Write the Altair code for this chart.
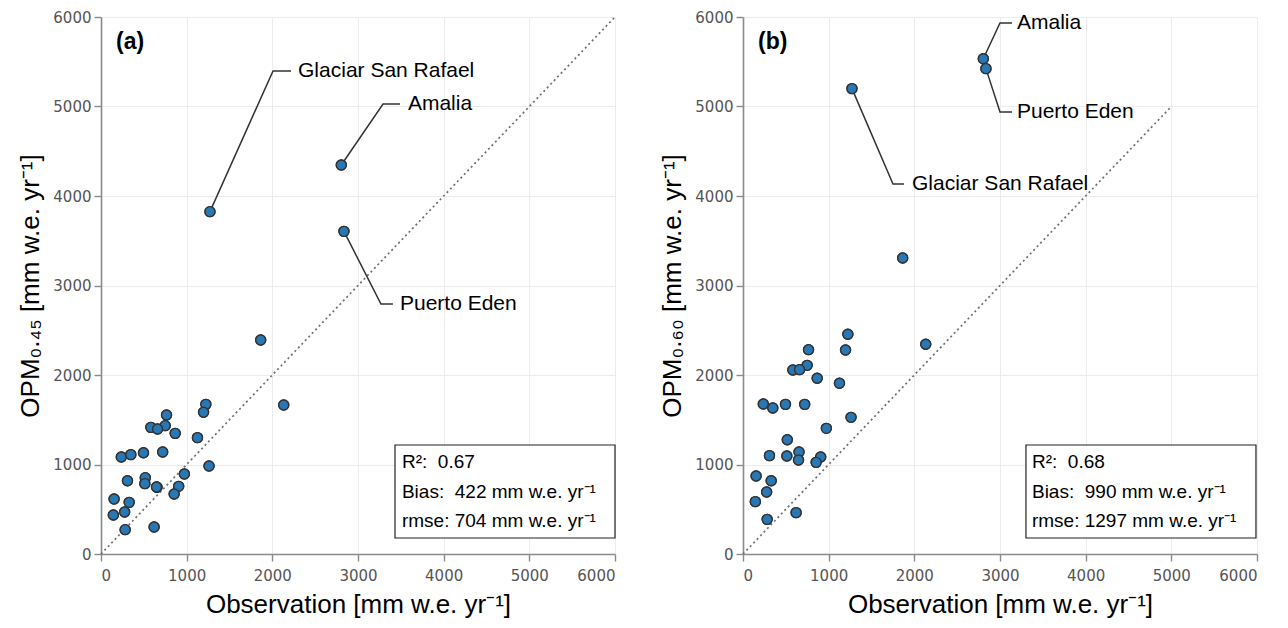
import altair as alt
import pandas as pd

# ---------------- data ----------------
observation = [2133, 1224, 1197, 765, 749, 582, 660, 866, 1126, 237, 348, 496, 720,
               1261, 973, 517, 512, 309, 654, 648, 907, 854, 153, 329, 144, 276,
               282, 620, 1864, 1272, 2805, 2836]
opm_045 = [1665, 1672, 1583, 1553, 1434, 1415, 1397, 1348, 1300, 1084, 1110, 1132, 1140,
           983, 894, 853, 786, 819, 745, 748, 756, 670, 615, 577, 436, 469,
           272, 302, 2391, 3825, 4346, 3605]
opm_060 = [2343, 2455, 2279, 2283, 2108, 2056, 2060, 1963, 1907, 1676, 1631, 1672, 1672,
           1527, 1404, 1277, 1095, 1099, 1140, 1050, 1084, 1024, 871, 819, 585, 693,
           387, 462, 3307, 5200, 5534, 5423]

labelled_names = ["Glaciar San Rafael", "Amalia", "Puerto Eden"]
labelled_index = [29, 30, 31]

# annotation anchors (data units): elbow of leader, end of leader, text start
elbow_x_a = [2008, 3292, 3268]
elbow_y_a = [5397, 5028, 2793]
end_x_a = [2218, 3490, 3408]
text_x_a = [2300, 3583, 3490]

elbow_x_b = [1751, 3000, 3000]
elbow_y_b = [4134, 5933, 4939]
end_x_b = [1879, 3140, 3140]
text_x_b = [1973, 3198, 3198]

NB = "\u00a0"
stats_a = ["R²:" + NB + " 0.67", "Bias:" + NB + " 422 mm w.e. yr⁻¹", "rmse: 704 mm w.e. yr⁻¹"]
stats_b = ["R²:" + NB + " 0.68", "Bias:" + NB + " 990 mm w.e. yr⁻¹", "rmse: 1297 mm w.e. yr⁻¹"]
stats_line_y = [1028, 693, 369]
stats_text_x_a = 3513
stats_text_x_b = 3373
box_a = [3432, 6000, 179, 1218]
box_b = [3303, 5988, 179, 1218]

diag_end_a = 6000
diag_end_b = 5000

axis_max = 6000
tick_values = [0, 1000, 2000, 3000, 4000, 5000, 6000]

x_title = "Observation [mm w.e. yr⁻¹]"
y_title_a = "OPM₀.₄₅ [mm w.e. yr⁻¹]"
y_title_b = "OPM₀.₆₀ [mm w.e. yr⁻¹]"

W, H = 514, 537


def panel(opm, letter, ytitle, diag_end, ex, ey, endx, tx,
          stats, stats_x, box):
    scale = alt.Scale(domain=[0, axis_max], nice=False, zero=True)
    X = alt.X("x:Q", scale=scale, title=x_title,
              axis=alt.Axis(values=tick_values, grid=True, format="d"))
    Y = alt.Y("y:Q", scale=scale, title=ytitle,
              axis=alt.Axis(values=tick_values, grid=True, format="d"))

    pts = pd.DataFrame({"x": observation, "y": opm})
    points = alt.Chart(pts).mark_point(
        filled=True, shape="circle", size=100, fill="#2878b6",
        stroke="#333333", strokeWidth=1.4, opacity=1
    ).encode(x=X, y=Y)

    diag = alt.Chart(pd.DataFrame({"x": [0, diag_end], "y": [0, diag_end]})).mark_line(
        color="#6f6f6f", strokeDash=[2, 3], strokeWidth=1.7
    ).encode(x=X, y=Y)

    rows = []
    for k, i in enumerate(labelled_index):
        nm = labelled_names[k]
        rows.append({"lab": nm, "o": 0, "x": observation[i], "y": opm[i]})
        rows.append({"lab": nm, "o": 1, "x": ex[k], "y": ey[k]})
        rows.append({"lab": nm, "o": 2, "x": endx[k], "y": ey[k]})
    lead = alt.Chart(pd.DataFrame(rows)).mark_line(color="#333333", strokeWidth=1.5).encode(
        x=X, y=Y, detail="lab:N", order="o:Q",
    )

    lab_df = pd.DataFrame({"lab": labelled_names, "x": tx, "y": ey})
    labels = alt.Chart(lab_df).mark_text(
        align="left", baseline="middle", fontSize=21, font="Liberation Sans", color="black"
    ).encode(x=X, y=Y, text="lab:N")

    box_df = pd.DataFrame({"x": [box[0]], "x2": [box[1]], "y": [box[2]], "y2": [box[3]]})
    rect = alt.Chart(box_df).mark_rect(fill="white", stroke="#222222", strokeWidth=1.2).encode(
        x=X, x2="x2:Q", y=Y, y2="y2:Q",
    )

    st_df = pd.DataFrame({"t": stats, "x": [stats_x] * len(stats), "y": stats_line_y})
    st = alt.Chart(st_df).mark_text(
        align="left", baseline="middle", fontSize=19, font="Liberation Sans", color="black"
    ).encode(x=X, y=Y, text="t:N")

    let = alt.Chart(pd.DataFrame({"t": [letter]})).mark_text(
        align="left", baseline="middle", fontSize=23, fontWeight="bold",
        font="Liberation Sans", color="black"
    ).encode(x=alt.value(15), y=alt.value(25), text="t:N")

    return alt.layer(points, diag, lead, points, rect, st, labels, let).properties(width=W, height=H)


pa = panel(opm_045, "(a)", y_title_a, diag_end_a, elbow_x_a, elbow_y_a, end_x_a, text_x_a,
           stats_a, stats_text_x_a, box_a)
pb = panel(opm_060, "(b)", y_title_b, diag_end_b, elbow_x_b, elbow_y_b, end_x_b, text_x_b,
           stats_b, stats_text_x_b, box_b)

chart = alt.hconcat(pa, pb, spacing=40).properties(
    padding={"left": 9, "top": 2, "right": 5, "bottom": 5}
).configure_view(stroke=None).configure_axis(
    domainColor="#8a8a8a", domainWidth=1.6, tickColor="#8a8a8a", tickWidth=1.4, tickSize=7,
    gridColor="#ececec", gridWidth=1, labelColor="#555555", labelFont="DejaVu Sans",
    labelFontSize=15, labelPadding=3, titleFont="Liberation Sans", titleFontSize=26,
    titleFontWeight="normal", titleColor="black", titlePadding=9,
).configure_axisX(labelPadding=7, titlePadding=8)

chart.save("out.html", embed_options={"renderer": "svg", "actions": False})
